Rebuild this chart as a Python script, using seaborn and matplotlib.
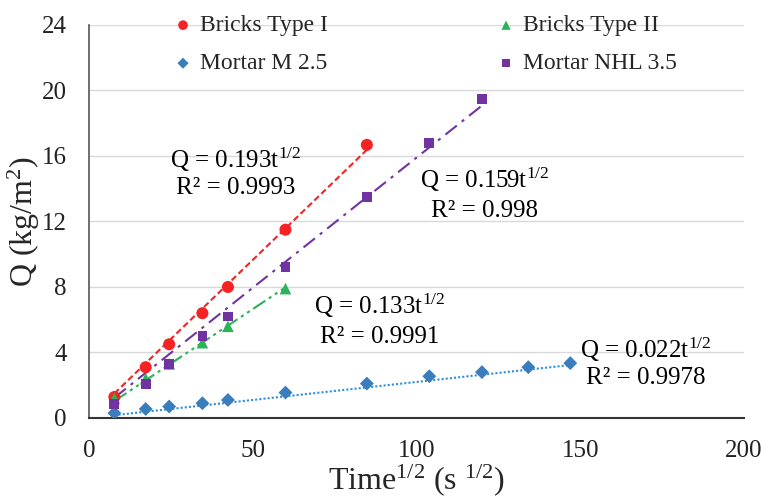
import numpy as np
import pandas as pd
import matplotlib
matplotlib.use("Agg")
import matplotlib.pyplot as plt
import seaborn as sns

# Square root of time (s^1/2) at each weighing
t_sqrt = [7.75, 17.32, 24.49, 34.64, 42.43, 60.0, 84.85, 103.92, 120.0, 134.16, 146.97]

# Cumulative water absorbed per unit area (kg/m2)
bricks_1 = [1.28, 3.1, 4.5, 6.4, 8.0, 11.5, 16.68]
bricks_2 = [1.2, 2.4, 3.3, 4.6, 5.6, 7.9]
mortar_m25 = [0.3, 0.55, 0.7, 0.9, 1.1, 1.55, 2.1, 2.55, 2.8, 3.1, 3.35]
mortar_nhl = [0.85, 2.1, 3.3, 5.0, 6.2, 9.2, 13.5, 16.8, 19.5]

series_names = ["Bricks Type I", "Bricks Type II", "Mortar M 2.5", "Mortar NHL 3.5"]
series_values = [bricks_1, bricks_2, mortar_m25, mortar_nhl]

# Sorptivity coefficients of the linear fits through the origin and their R²
slopes = [0.193, 0.133, 0.022, 0.159]
r_squared = ["0.9993", "0.9991", "0.9978", "0.998"]

sns.set_theme(style="white")
plt.rcParams["font.family"] = ["Liberation Serif", "DejaVu Serif"]
plt.rcParams["mathtext.fontset"] = "custom"
plt.rcParams["mathtext.rm"] = "Liberation Serif"

rows = []
for name, vals in zip(series_names, series_values):
    for x, y in zip(t_sqrt, vals):
        rows.append({"t": x, "Q": y, "Material": name})
df = pd.DataFrame(rows)

marker_colors = {"Bricks Type I": "#F52323", "Bricks Type II": "#2BB35A",
                 "Mortar M 2.5": "#3A7DBD", "Mortar NHL 3.5": "#7033A0"}
line_colors = {"Bricks Type I": "#F52323", "Bricks Type II": "#2BB35A",
               "Mortar M 2.5": "#2E8FD8", "Mortar NHL 3.5": "#7033A0"}
markers = {"Bricks Type I": "o", "Bricks Type II": "^",
           "Mortar M 2.5": "D", "Mortar NHL 3.5": "s"}
sizes = {"Bricks Type I": 75, "Bricks Type II": 70, "Mortar M 2.5": 50, "Mortar NHL 3.5": 50}
dashes = {"Bricks Type I": (0, (3, 1.6)),
          "Bricks Type II": (0, (7, 2, 1.5, 2, 1.5, 2)),
          "Mortar M 2.5": (0, (1, 1)),
          "Mortar NHL 3.5": (0, (7, 3, 1.5, 3))}

fig = plt.figure(figsize=(7.65, 4.97), dpi=100)
ax = fig.add_axes([0.1163, 0.159, 0.8562, 0.7907])

# Fitted trend lines over the measured range
for name, vals, k in zip(series_names, series_values, slopes):
    xs = np.array([t_sqrt[0], t_sqrt[len(vals) - 1]])
    ax.plot(xs, k * xs, color=line_colors[name], linestyle=dashes[name],
            linewidth=1.5, zorder=2)

for name in series_names:
    sub = df[df["Material"] == name]
    sns.scatterplot(data=sub, x="t", y="Q", ax=ax, color=marker_colors[name],
                    marker=markers[name], s=sizes[name], edgecolor="none",
                    label=name, zorder=3)

# Fit equations
label_pos = {
    "Bricks Type I": (44.9, 15.76, 14.05),
    "Bricks Type II": (88.8, 6.84, 4.95),
    "Mortar M 2.5": (170.0, 4.15, 2.44),
    "Mortar NHL 3.5": (120.9, 14.53, 12.64),
}
for name, k, r2 in zip(series_names, slopes, r_squared):
    x, yq, yr = label_pos[name]
    ax.text(x, yq, f"Q = {k:.3f}t" + r"$\mathregular{^{1/2}}$", ha="center",
            va="center", fontsize=18, color="black")
    ax.text(x, yr, f"R² = {r2}", ha="center", va="center", fontsize=18,
            color="black")

ax.set_xlim(0, 200)
ax.set_ylim(0, 24)
ax.set_xticks([0, 50, 100, 150, 200])
ax.set_yticks([0, 4, 8, 12, 16, 20, 24])
ax.tick_params(axis="both", labelsize=18, length=0, pad=16, colors="#222222")
ax.grid(axis="y", color="#D9D9D9", linewidth=1)
ax.set_axisbelow(True)
for side in ["top", "right"]:
    ax.spines[side].set_visible(False)
ax.spines["left"].set_color("#555555")
ax.spines["bottom"].set_color("#333333")
ax.spines["left"].set_linewidth(1.2)
ax.spines["bottom"].set_linewidth(1.5)

ax.set_xlabel(r"Time$\mathregular{^{1/2}}$ (s $\mathregular{^{1/2}}$)", fontsize=23, labelpad=0)
ax.set_ylabel(r"Q (kg/m$\mathregular{^{2}}$)", fontsize=23, labelpad=0)

handles, labels = ax.get_legend_handles_labels()
order = [labels.index(n) for n in ["Bricks Type I", "Mortar M 2.5", "Bricks Type II", "Mortar NHL 3.5"]]
ax.legend([handles[i] for i in order], [labels[i] for i in order], ncol=2,
          loc="upper left", bbox_to_anchor=(0.0895, 1.08), frameon=False,
          fontsize=17, handlelength=1.2, handletextpad=0.1, columnspacing=6.96,
          labelspacing=0.7, markerscale=0.8)

fig.savefig("out.png", dpi=100)
